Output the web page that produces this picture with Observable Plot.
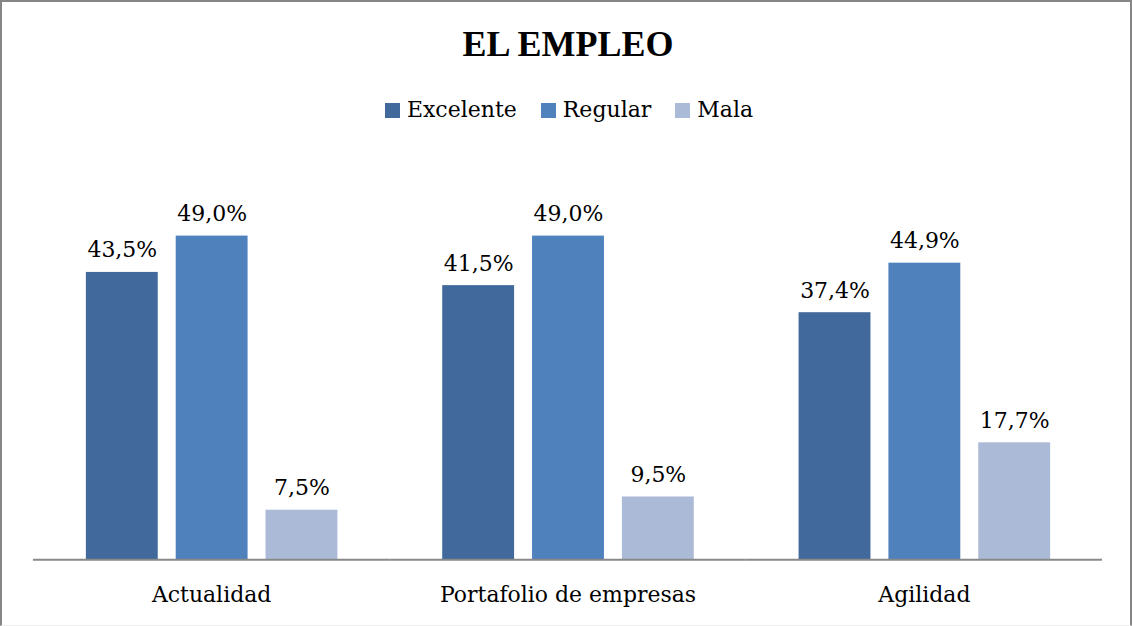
<!DOCTYPE html>
<html>
<head>
<meta charset="utf-8">
<script src="https://cdn.jsdelivr.net/npm/d3@7"></script>
<script src="https://cdn.jsdelivr.net/npm/@observablehq/plot@0.6"></script>
<style>
  html, body { margin: 0; padding: 0; background: #fff; }
  #frame { position: relative; width: 1132px; height: 626px; box-sizing: border-box;
           border-top: 2px solid #868686; border-left: 2px solid #868686; border-right: 2px solid #868686;
           border-bottom: 1px solid #eeeeee; overflow: hidden; }
  #title { position: absolute; left: 2px; width: 1128px; top: 24px; text-align: center;
           font-family: "Liberation Serif", serif; font-weight: bold; font-size: 36px; line-height: 36px; color: #000; }
  #legend { position: absolute; left: 3px; width: 1128px; top: 96px; display: flex; justify-content: center;
            font-family: "DejaVu Serif", serif; font-size: 22px; line-height: 24px; color: #000; }
  .item { display: flex; align-items: center; margin: 0 12px; }
  .sw { width: 15px; height: 15px; margin-right: 7px; }
  #chart { position: absolute; left: -2px; top: 128px; }
</style>
</head>
<body>
<div id="frame">
  <div id="title">EL EMPLEO</div>
  <div id="legend"></div>
  <div id="chart"></div>
</div>
<script>
const categories = ["Actualidad", "Portafolio de empresas", "Agilidad"];
const seriesNames = ["Excelente", "Regular", "Mala"];
const excelente = [43.5, 41.5, 37.4];
const regular = [49.0, 49.0, 44.9];
const mala = [7.5, 9.5, 17.7];
const colors = ["#41699b", "#4f81bd", "#aabad7"];

const seriesValues = [excelente, regular, mala];
const data = [];
categories.forEach((c, i) => {
  seriesNames.forEach((s, j) => {
    data.push({category: c, series: s, value: seriesValues[j][i]});
  });
});

const legend = document.getElementById("legend");
seriesNames.forEach((s, j) => {
  const it = document.createElement("div");
  it.className = "item";
  it.innerHTML = `<div class="sw" style="background:${colors[j]}"></div><span>${s}</span>`;
  legend.appendChild(it);
});

const fmt = v => v.toFixed(1).replace(".", ",") + "%";

const chart = Plot.plot({
  width: 1132,
  height: 496,
  marginLeft: 32,
  marginRight: 28,
  marginTop: 33,
  marginBottom: 66,
  style: {fontFamily: "DejaVu Serif, serif", fontSize: "22px", color: "#000", background: "transparent"},
  fx: {domain: categories, padding: 0, label: null},
  x: {domain: seriesNames, paddingInner: 0.2, paddingOuter: 0.58, axis: null},
  y: {domain: [0, 60], axis: null},
  color: {domain: seriesNames, range: colors},
  marks: [
    Plot.barY(data, {fx: "category", x: "series", y: "value", fill: "series"}),
    Plot.text(data, {fx: "category", x: "series", y: "value", text: d => fmt(d.value),
      lineAnchor: "bottom", dy: -15, fill: "#000", fontSize: 22}),
    Plot.ruleY([0], {stroke: "#898989", strokeWidth: 2}),
    Plot.axisFx({anchor: "bottom", tickSize: 0, tickPadding: 27, fontSize: 22, label: null})
  ]
});
document.getElementById("chart").appendChild(chart);
</script>
</body>
</html>
